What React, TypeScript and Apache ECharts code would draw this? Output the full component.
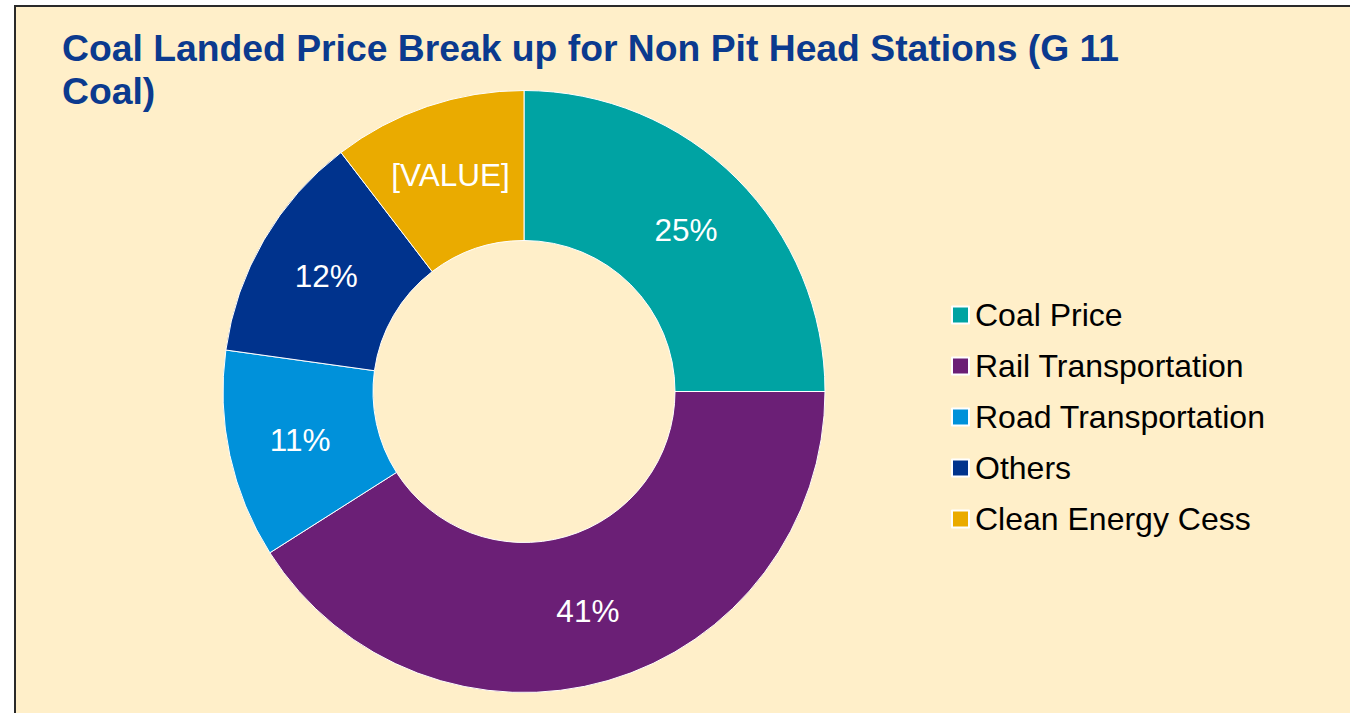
import React, { useEffect, useRef } from "react";
import * as echarts from "echarts";

const titleText = "Coal Landed Price Break up for Non Pit Head Stations (G 11\nCoal)";
const categories = ["Coal Price", "Rail Transportation", "Road Transportation", "Others", "Clean Energy Cess"];
const values = [25, 41, 11.2, 12.4, 10.4];
const valueLabels = ["25%", "41%", "11%", "12%", "[VALUE]"];
const colors = ["#00A3A3", "#6B1F76", "#0091DA", "#00338D", "#EAAB00"];

export default function App() {
  const ref = useRef<HTMLDivElement>(null);
  useEffect(() => {
    if (!ref.current) return;
    const chart = echarts.init(ref.current, undefined, { renderer: "svg" });
    const font = "'Liberation Sans', Arial, sans-serif";
    chart.setOption({
      animation: false,
      backgroundColor: "transparent",
      title: {
        text: titleText,
        left: 62,
        top: 26,
        padding: 0,
        textStyle: {
          fontFamily: font,
          fontSize: 37.3,
          fontWeight: "bold",
          color: "#0B3A8E",
          lineHeight: 43,
        },
      },
      legend: {
        orient: "vertical",
        left: 951,
        top: 299,
        padding: 0,
        itemWidth: 19,
        itemHeight: 17,
        itemGap: 19,
        icon: "path://M0,0L10,0L10,10L0,10Z",
        textStyle: { fontFamily: font, fontSize: 32, color: "#000", lineHeight: 32 },
        data: categories,
      },
      series: [
        {
          type: "pie",
          center: [524, 391.5],
          radius: [151, 301],
          startAngle: 90,
          clockwise: true,
          avoidLabelOverlap: false,
          itemStyle: { borderColor: "#ffffff", borderWidth: 1 },
          label: {
            show: true,
            position: "inside",
            color: "#ffffff",
            fontFamily: font,
            fontSize: 31.5,
            padding: [6, 0, 0, 0],
            formatter: (p: any) => valueLabels[p.dataIndex],
          },
          labelLine: { show: false },
          emphasis: { disabled: true },
          data: categories.map((c, i) => ({
            name: c,
            value: values[i],
            itemStyle: { color: colors[i] },
          })),
        },
      ],
    });
    return () => chart.dispose();
  }, []);

  return (
    <div style={{ position: "fixed", left: 0, top: 0, width: 1350, height: 713, background: "#ffffff", overflow: "hidden" }}>
      <div
        style={{
          position: "absolute",
          left: 14,
          top: 5,
          width: 2000,
          height: 2000,
          borderLeft: "2px solid #2a2a2a",
          borderTop: "2px solid #2a2a2a",
          background: "#FFEFC9",
        }}
      />
      <div ref={ref} style={{ position: "absolute", left: 0, top: 0, width: 1350, height: 713 }} />
    </div>
  );
}
